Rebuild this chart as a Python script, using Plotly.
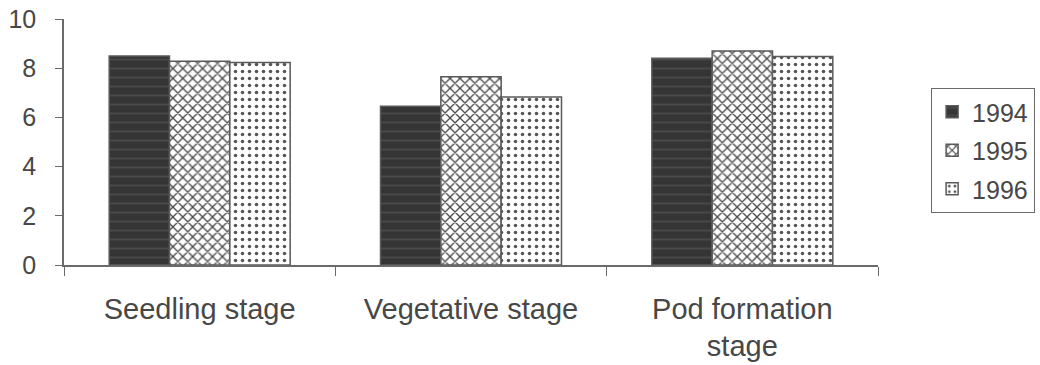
import plotly.graph_objects as go

# Growth stages on the category axis
stages = ["Seedling stage", "Vegetative stage", "Pod formation<br>stage"]

# Values per year at each stage
years = ["1994", "1995", "1996"]
values_1994 = [8.5, 6.45, 8.4]
values_1995 = [8.28, 7.65, 8.7]
values_1996 = [8.23, 6.83, 8.48]

y_ticks = [0, 2, 4, 6, 8, 10]

FONT = "Liberation Sans, Arial, sans-serif"
TEXT = "#474747"
EDGE = "#5a5a5a"
AXIS = "#6a6a6a"

series = [
    (years[0], values_1994, dict(shape="-", fgcolor="#4a4a4a", bgcolor="#353535", size=9, solidity=0.2)),
    (years[1], values_1995, dict(shape="x", fgcolor="#4a4a4a", bgcolor="#ffffff", size=7, solidity=0.35)),
    (years[2], values_1996, dict(shape=".", fgcolor="#555555", bgcolor="#ffffff", size=7, solidity=0.2)),
]

fig = go.Figure()
for name, vals, pat in series:
    fig.add_trace(go.Bar(
        name=name,
        x=stages,
        y=vals,
        legendgroup=name,
        marker=dict(
            color=pat["bgcolor"],
            line=dict(color=EDGE, width=1.5),
            pattern=dict(shape=pat["shape"], fgcolor=pat["fgcolor"],
                         bgcolor=pat["bgcolor"], size=pat["size"],
                         solidity=pat["solidity"], fillmode="replace"),
        ),
    ))

fig.update_layout(
    width=1040,
    height=365,
    margin=dict(l=64, r=162, t=19, b=100, autoexpand=False),
    paper_bgcolor="white",
    plot_bgcolor="white",
    barmode="group",
    bargap=0.333,
    bargroupgap=0,
    font=dict(family=FONT, color=TEXT),
    legend=dict(
        x=1.065, y=0.72, xanchor="left", yanchor="top",
        bordercolor=AXIS, borderwidth=1.2,
        font=dict(size=25, color=TEXT, family=FONT),
        tracegroupgap=3,
        itemwidth=30,
    ),
)

fig.update_xaxes(
    automargin=False,
    showline=True, linecolor=AXIS, linewidth=1.5,
    ticks="outside", tickson="boundaries", ticklen=9, tickcolor=AXIS,
    tickwidth=1.2,
    tickfont=dict(size=29, color=TEXT, family=FONT),
    showgrid=False, zeroline=False,
    ticklabelstandoff=17,
)
fig.update_yaxes(
    automargin=False,
    range=[0, 10],
    tickvals=y_ticks,
    showline=True, linecolor=AXIS, linewidth=1.5,
    ticks="outside", ticklen=7, tickcolor=AXIS, tickwidth=1.2,
    tickfont=dict(size=25, color=TEXT, family=FONT),
    showgrid=False, zeroline=False,
    ticklabelstandoff=14,
)

fig.write_html("out.html")
